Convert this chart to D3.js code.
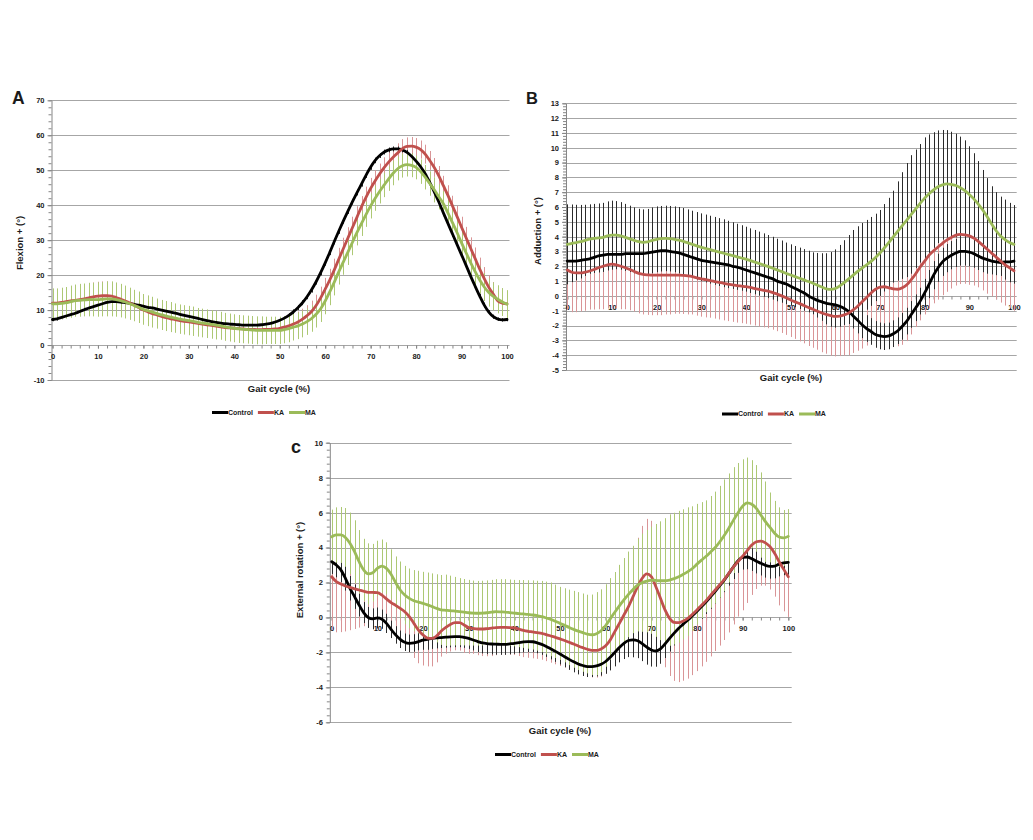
<!DOCTYPE html>
<html><head><meta charset="utf-8">
<script src="https://cdn.jsdelivr.net/npm/d3@7"></script>
<style>
body{margin:0;background:#fff}
svg{display:block}
text{font-family:"Liberation Sans",Arial,sans-serif;font-weight:bold;fill:#1a1a1a}
</style>
</head><body>
<svg id="chart" width="1033" height="840"></svg>
<script>
// ---------- DATA ----------
const gaitCycle = d3.range(0, 101, 1);            // % of gait cycle (x categories)
const xTickLabels = [0,10,20,30,40,50,60,70,80,90,100];
const seriesNames = ["Control", "KA", "MA"];

// Panel A : Flexion + (°)
const flexControl = [7.3,7.5,7.9,8.3,8.7,9.1,9.6,10.1,10.6,11.0,
 11.4,11.8,12.2,12.4,12.4,12.3,12.1,11.9,11.6,11.4,
 11.1,10.8,10.6,10.3,10.0,9.7,9.4,9.1,8.8,8.5,
 8.2,7.9,7.6,7.3,7.0,6.7,6.5,6.3,6.1,6.0,
 5.9,5.8,5.7,5.7,5.7,5.7,5.8,6.0,6.2,6.6,
 7.1,7.7,8.5,9.5,10.7,12.1,13.8,15.8,18.1,20.7,
 23.5,26.5,29.6,32.6,35.5,38.3,41.0,43.6,46.1,48.6,
 50.9,52.8,54.2,55.2,55.8,56.1,56.1,55.8,55.1,54.0,
 52.6,51.0,49.0,46.5,43.8,40.9,37.8,34.8,31.8,28.8,
 25.8,22.8,19.7,16.8,14.0,11.4,9.4,8.1,7.4,7.2,
 7.3];
const flexKA = [12.0,12.0,12.2,12.4,12.6,12.8,13.0,13.2,13.5,13.8,
 14.0,14.1,14.1,14.0,13.6,13.1,12.6,12.0,11.4,10.7,
 10.0,9.5,9.0,8.6,8.2,7.8,7.5,7.3,7.0,6.8,
 6.6,6.4,6.2,6.0,5.8,5.6,5.4,5.2,5.0,4.9,
 4.8,4.7,4.6,4.5,4.5,4.4,4.4,4.5,4.5,4.6,
 4.8,5.1,5.5,6.0,6.6,7.4,8.4,9.6,11.3,13.5,
 16.0,18.6,21.5,24.6,27.6,30.6,33.6,36.6,39.6,42.3,
 44.8,47.0,49.0,50.8,52.4,53.8,55.0,56.2,56.8,56.9,
 56.6,55.9,54.6,52.8,50.8,48.4,45.6,42.8,39.8,36.8,
 33.7,30.7,27.7,24.7,21.7,19.0,16.5,14.5,12.6,12.0,
 11.8];
const flexMA = [11.8,11.8,11.9,12.1,12.4,12.7,12.8,12.9,13.0,13.0,
 13.0,13.1,13.2,13.2,13.0,12.7,12.3,11.8,11.3,10.8,
 10.2,9.8,9.4,9.0,8.6,8.3,8.0,7.7,7.4,7.2,
 7.0,6.8,6.5,6.3,6.1,5.9,5.7,5.5,5.2,5.0,
 4.8,4.6,4.5,4.4,4.3,4.2,4.2,4.2,4.2,4.2,
 4.2,4.4,4.7,5.1,5.5,6.0,6.7,7.6,8.8,10.4,
 12.6,15.2,18.0,21.0,23.8,26.6,29.4,32.2,34.8,37.4,
 39.8,42.0,44.0,45.8,47.6,49.2,50.5,51.3,51.6,51.4,
 50.8,49.6,48.0,46.2,44.4,42.4,40.4,37.8,35.0,32.2,
 29.2,26.4,23.6,21.0,18.6,16.6,15.0,13.9,13.1,12.3,
 11.7];
const flexControlSD = [0.5,0.5,0.5,0.6,0.6,0.6,0.6,0.6,0.6,0.6,
 0.6,0.6,0.6,0.6,0.6,0.6,0.6,0.5,0.5,0.5,
 0.5,0.5,0.5,0.5,0.5,0.5,0.5,0.5,0.5,0.5,
 0.5,0.5,0.5,0.5,0.5,0.5,0.5,0.5,0.5,0.5,
 0.5,0.5,0.5,0.5,0.5,0.5,0.5,0.5,0.5,0.6,
 0.6,0.6,0.6,0.7,0.7,0.7,0.7,0.8,0.8,0.8,
 0.8,0.8,0.8,0.8,0.8,0.8,0.8,0.8,0.8,0.8,
 0.8,0.8,0.7,0.7,0.7,0.7,0.7,0.7,0.7,0.7,
 0.8,0.8,0.8,0.8,0.8,0.8,0.8,0.8,0.8,0.8,
 0.8,0.8,0.8,0.8,0.7,0.7,0.6,0.6,0.5,0.5,
 0.5];
const flexKASD = [3.8,3.8,3.8,3.9,3.9,3.9,4.0,4.0,4.0,4.1,
 4.1,4.1,4.1,4.0,4.0,3.9,3.9,3.8,3.7,3.7,
 3.6,3.5,3.5,3.4,3.3,3.3,3.2,3.1,3.1,3.0,
 3.0,3.0,3.0,2.9,2.9,2.9,2.9,2.9,2.8,2.8,
 2.8,2.8,2.8,2.8,2.8,2.8,2.8,2.8,2.8,2.8,
 2.8,2.8,2.9,2.9,3.0,3.0,3.0,3.1,3.1,3.2,
 3.2,3.2,3.2,3.2,3.1,3.1,3.1,3.1,3.0,3.0,
 3.0,3.0,2.9,2.9,2.8,2.8,2.7,2.7,2.6,2.6,
 2.6,2.6,2.7,2.7,2.7,2.8,2.8,2.9,2.9,3.0,
 3.0,3.1,3.1,3.2,3.3,3.3,3.4,3.5,3.5,3.6,
 3.6];
const flexMASD = [4.4,4.4,4.5,4.5,4.6,4.6,4.7,4.7,4.8,4.8,
 4.9,4.9,5.0,5.0,4.9,4.8,4.7,4.6,4.5,4.5,
 4.4,4.4,4.4,4.3,4.3,4.3,4.3,4.2,4.2,4.2,
 4.2,4.2,4.1,4.1,4.1,4.1,4.1,4.0,4.0,4.0,
 4.0,4.0,4.0,4.0,4.0,4.0,4.0,3.9,3.9,3.9,
 3.9,3.9,3.9,3.8,3.8,3.8,3.8,3.8,3.8,3.8,
 3.8,3.8,3.8,3.7,3.7,3.7,3.7,3.7,3.6,3.6,
 3.6,3.6,3.5,3.5,3.5,3.5,3.4,3.4,3.4,3.4,
 3.4,3.5,3.5,3.5,3.6,3.6,3.6,3.7,3.7,3.7,
 3.8,3.8,3.8,3.9,3.9,4.0,4.0,4.0,4.0,4.0,
 4.0];

// Panel B : Adduction + (°)
const addControl = [2.35,2.35,2.35,2.4,2.45,2.5,2.6,2.7,2.75,2.8,
 2.8,2.8,2.8,2.85,2.85,2.85,2.85,2.85,2.9,2.95,
 3.0,3.05,3.05,3.0,2.95,2.9,2.8,2.7,2.6,2.5,
 2.4,2.35,2.3,2.25,2.2,2.15,2.1,2.0,1.95,1.85,
 1.75,1.65,1.55,1.45,1.35,1.25,1.15,1.0,0.9,0.8,
 0.65,0.5,0.35,0.2,0.0,-0.15,-0.3,-0.4,-0.5,-0.55,
 -0.6,-0.7,-0.85,-1.05,-1.35,-1.65,-1.95,-2.2,-2.4,-2.6,
 -2.7,-2.75,-2.7,-2.55,-2.35,-2.05,-1.7,-1.25,-0.8,-0.35,
 0.2,0.8,1.4,1.9,2.3,2.55,2.75,2.9,3.0,3.0,
 2.95,2.85,2.7,2.55,2.45,2.35,2.3,2.25,2.3,2.3,
 2.35];
const addKA = [1.75,1.6,1.55,1.55,1.6,1.68,1.78,1.9,2.0,2.1,
 2.15,2.1,2.0,1.9,1.78,1.65,1.52,1.45,1.42,1.4,
 1.4,1.4,1.4,1.4,1.4,1.4,1.38,1.35,1.3,1.22,
 1.15,1.1,1.03,0.97,0.91,0.85,0.8,0.75,0.7,0.66,
 0.62,0.57,0.5,0.44,0.38,0.32,0.22,0.12,0.0,-0.13,
 -0.27,-0.4,-0.52,-0.65,-0.78,-0.9,-1.03,-1.15,-1.25,-1.33,
 -1.38,-1.36,-1.28,-1.15,-0.95,-0.7,-0.4,-0.1,0.2,0.45,
 0.6,0.62,0.55,0.48,0.45,0.55,0.75,1.1,1.5,1.95,
 2.35,2.75,3.05,3.3,3.55,3.78,3.95,4.1,4.15,4.12,
 4.05,3.9,3.68,3.42,3.15,2.88,2.62,2.35,2.1,1.9,
 1.7];
const addMA = [3.48,3.55,3.6,3.66,3.75,3.84,3.88,3.91,3.95,4.05,
 4.1,4.1,4.05,3.95,3.85,3.75,3.66,3.62,3.65,3.75,
 3.82,3.86,3.88,3.86,3.82,3.76,3.68,3.58,3.48,3.38,
 3.28,3.2,3.12,3.04,2.96,2.88,2.8,2.72,2.64,2.56,
 2.48,2.38,2.28,2.18,2.08,1.98,1.87,1.75,1.64,1.52,
 1.41,1.3,1.19,1.08,0.97,0.85,0.72,0.6,0.48,0.44,
 0.5,0.68,0.9,1.15,1.4,1.65,1.88,2.1,2.33,2.6,
 2.9,3.25,3.62,4.0,4.38,4.75,5.12,5.5,5.88,6.25,
 6.6,6.9,7.15,7.37,7.5,7.56,7.52,7.45,7.3,7.1,
 6.85,6.55,6.2,5.8,5.35,4.85,4.4,4.05,3.8,3.6,
 3.48];
const addControlSD = [0.9,0.9,0.9,0.9,0.9,0.9,0.9,0.9,0.9,0.9,
 0.9,0.9,0.9,0.9,0.9,0.9,0.9,0.9,0.9,0.9,
 0.9,0.9,0.9,0.9,0.9,0.9,0.9,0.9,0.9,0.9,
 0.85,0.85,0.85,0.85,0.85,0.85,0.85,0.85,0.85,0.85,
 0.85,0.85,0.85,0.85,0.85,0.85,0.85,0.85,0.85,0.85,
 0.85,0.85,0.85,0.85,0.85,0.85,0.85,0.85,0.85,0.85,
 0.85,0.85,0.85,0.85,0.85,0.88,0.9,0.9,0.9,0.9,
 0.9,0.9,0.9,0.9,0.9,0.9,0.9,0.9,0.9,0.9,
 0.95,0.95,0.95,0.95,0.95,0.95,0.95,0.95,0.95,0.95,
 0.95,0.95,0.95,0.95,0.95,0.9,0.9,0.9,0.9,0.9,
 0.9];
const addKASD = [2.7,2.7,2.65,2.6,2.6,2.6,2.7,2.8,2.9,2.95,
 3.0,2.95,2.9,2.8,2.75,2.7,2.7,2.7,2.7,2.7,
 2.7,2.7,2.65,2.65,2.6,2.6,2.6,2.6,2.55,2.55,
 2.55,2.55,2.5,2.5,2.5,2.5,2.5,2.5,2.5,2.5,
 2.5,2.5,2.5,2.5,2.5,2.5,2.5,2.5,2.5,2.5,
 2.5,2.5,2.55,2.55,2.6,2.6,2.6,2.65,2.65,2.7,
 2.7,2.7,2.75,2.85,2.9,3.0,3.15,3.25,3.4,3.55,
 3.7,3.75,3.8,3.8,3.85,3.85,3.8,3.7,3.6,3.6,
 3.6,3.6,3.55,3.55,3.5,3.5,3.45,3.4,3.35,3.3,
 3.3,3.2,3.1,3.05,3.0,2.9,2.85,2.8,2.75,2.7,
 2.7];
const addMASD = [2.7,2.62,2.55,2.48,2.4,2.34,2.33,2.33,2.33,2.33,
 2.33,2.3,2.28,2.26,2.24,2.22,2.22,2.22,2.22,2.22,
 2.22,2.21,2.21,2.21,2.22,2.24,2.25,2.26,2.27,2.28,
 2.29,2.29,2.29,2.29,2.29,2.29,2.27,2.25,2.23,2.21,
 2.19,2.18,2.17,2.16,2.14,2.13,2.12,2.11,2.1,2.08,
 2.07,2.07,2.07,2.08,2.08,2.09,2.18,2.28,2.4,2.52,
 2.64,2.76,2.86,2.96,3.05,3.05,3.04,3.03,3.0,2.95,
 2.9,2.95,3.0,3.1,3.35,3.6,3.85,4.0,4.0,4.0,
 4.1,4.0,3.9,3.8,3.7,3.63,3.56,3.5,3.45,3.4,
 3.25,3.08,2.9,2.7,2.6,2.55,2.6,2.65,2.7,2.68,
 2.65];

// Panel C : External rotation + (°)
const rotControl = [3.19,3.0,2.72,2.24,1.67,1.19,0.71,0.28,0.0,-0.08,
 -0.03,-0.1,-0.34,-0.68,-1.0,-1.25,-1.42,-1.48,-1.46,-1.38,
 -1.3,-1.25,-1.2,-1.17,-1.15,-1.13,-1.11,-1.1,-1.1,-1.14,
 -1.2,-1.29,-1.38,-1.46,-1.5,-1.52,-1.53,-1.54,-1.54,-1.51,
 -1.48,-1.44,-1.4,-1.38,-1.39,-1.45,-1.54,-1.66,-1.8,-1.94,
 -2.09,-2.25,-2.4,-2.54,-2.66,-2.75,-2.81,-2.81,-2.77,-2.68,
 -2.52,-2.28,-2.0,-1.72,-1.48,-1.32,-1.28,-1.33,-1.5,-1.7,
 -1.86,-1.92,-1.8,-1.52,-1.2,-0.9,-0.62,-0.38,-0.15,0.1,
 0.35,0.62,0.9,1.2,1.5,1.82,2.15,2.52,2.9,3.25,
 3.44,3.46,3.36,3.22,3.1,2.98,2.92,2.94,3.05,3.12,
 3.15];
const rotKA = [2.33,2.05,1.91,1.8,1.72,1.64,1.57,1.5,1.44,1.43,
 1.42,1.28,1.06,0.85,0.69,0.52,0.33,0.05,-0.34,-0.72,
 -1.0,-1.18,-1.2,-1.05,-0.78,-0.57,-0.4,-0.3,-0.3,-0.43,
 -0.58,-0.63,-0.66,-0.66,-0.64,-0.61,-0.58,-0.57,-0.57,-0.58,
 -0.6,-0.67,-0.74,-0.79,-0.83,-0.87,-0.91,-0.98,-1.06,-1.14,
 -1.23,-1.32,-1.42,-1.52,-1.63,-1.73,-1.82,-1.88,-1.88,-1.8,
 -1.62,-1.29,-0.81,-0.34,0.14,0.62,1.19,1.76,2.24,2.49,
 2.33,1.76,1.1,0.43,-0.05,-0.28,-0.3,-0.2,-0.05,0.18,
 0.43,0.7,0.96,1.27,1.57,1.87,2.18,2.54,2.9,3.2,
 3.51,3.83,4.14,4.33,4.37,4.27,4.05,3.67,3.19,2.75,
 2.33];
const rotMA = [4.62,4.72,4.72,4.58,4.24,3.76,3.19,2.72,2.49,2.56,
 2.81,2.94,2.81,2.47,1.99,1.57,1.28,1.09,0.96,0.88,
 0.81,0.72,0.62,0.52,0.43,0.41,0.39,0.36,0.33,0.3,
 0.27,0.25,0.24,0.25,0.27,0.3,0.33,0.32,0.31,0.28,
 0.25,0.22,0.2,0.17,0.14,0.1,0.05,-0.03,-0.11,-0.22,
 -0.34,-0.45,-0.57,-0.68,-0.78,-0.87,-0.95,-0.99,-0.93,-0.76,
 -0.46,-0.08,0.3,0.66,1.0,1.32,1.6,1.85,1.99,2.08,
 2.14,2.12,2.1,2.1,2.14,2.22,2.33,2.47,2.62,2.8,
 3.05,3.28,3.5,3.75,4.0,4.33,4.7,5.12,5.57,5.99,
 6.37,6.56,6.48,6.24,5.86,5.48,5.15,4.82,4.6,4.55,
 4.64];
const rotControlSD = [0.7,0.7,0.7,0.7,0.7,0.7,0.65,0.6,0.6,0.6,
 0.6,0.55,0.55,0.5,0.5,0.5,0.5,0.5,0.5,0.5,
 0.55,0.6,0.6,0.6,0.6,0.6,0.6,0.6,0.6,0.6,
 0.6,0.6,0.6,0.6,0.6,0.6,0.6,0.6,0.6,0.6,
 0.6,0.6,0.6,0.6,0.6,0.6,0.6,0.6,0.6,0.6,
 0.6,0.6,0.6,0.6,0.6,0.6,0.6,0.6,0.6,0.65,
 0.7,0.75,0.8,0.85,0.9,0.95,1.0,1.0,1.0,1.0,
 0.95,0.9,0.85,0.8,0.75,0.7,0.7,0.7,0.7,0.7,
 0.7,0.7,0.7,0.7,0.7,0.7,0.7,0.7,0.7,0.7,
 0.7,0.7,0.7,0.7,0.7,0.7,0.7,0.7,0.7,0.7,
 0.7];
const rotKASD = [3.05,2.9,2.75,2.6,2.45,2.3,2.15,2.0,1.9,1.8,
 1.78,1.77,1.76,1.76,1.85,2.0,2.1,2.05,1.98,1.9,
 1.75,1.62,1.6,1.52,1.46,1.5,1.55,1.58,1.6,1.6,
 1.5,1.45,1.5,1.55,1.58,1.6,1.58,1.56,1.55,1.55,
 1.55,1.54,1.53,1.52,1.51,1.5,1.51,1.52,1.53,1.54,
 1.55,1.55,1.55,1.55,1.55,1.55,1.55,1.55,1.56,1.58,
 1.6,1.7,1.8,2.0,2.2,2.4,2.6,2.8,3.0,3.15,
 3.2,3.22,3.25,3.28,3.3,3.35,3.4,3.42,3.45,3.48,
 3.5,3.5,3.5,3.5,3.49,3.48,3.47,3.4,3.3,3.15,
 3.1,3.0,2.85,2.7,2.55,2.45,2.45,2.48,2.5,2.4,
 2.3];
const rotMASD = [1.55,1.58,1.6,1.68,1.76,1.8,1.81,1.78,1.75,1.65,
 1.58,1.52,1.49,1.43,1.5,1.63,1.67,1.71,1.75,1.79,
 1.8,1.85,1.9,1.95,2.0,2.04,2.0,1.96,1.92,1.9,
 1.88,1.86,1.85,1.85,1.85,1.85,1.86,1.87,1.88,1.89,
 1.9,1.92,1.94,1.96,1.98,2.0,2.04,2.08,2.11,2.1,
 2.09,2.12,2.16,2.2,2.23,2.24,2.25,2.3,2.38,2.37,
 2.36,2.33,2.3,2.35,2.4,2.45,2.5,2.65,2.81,2.93,
 3.06,3.23,3.4,3.58,3.76,3.77,3.77,3.72,3.68,3.56,
 3.45,3.32,3.2,3.2,3.2,3.2,3.2,3.12,3.03,2.85,
 2.68,2.59,2.52,2.48,2.44,2.3,2.0,1.85,1.7,1.6,
 1.56];

// ---------- STYLE ----------
const lineColors = {Control:"#000000", KA:"#c0504d", MA:"#9bbb59"};
const GRID = "#a6a6a6", AXIS = "#868686";

const svg = d3.select("#chart");

function drawPanel(P) {
  const g = svg.append("g");
  const x = d3.scaleLinear().domain([0, 100]).range([P.x0, P.x100]);
  const y = d3.scaleLinear().domain([P.yMin, P.yMax]).range([P.yBot, P.yTop]);
  const majors = d3.range(P.yMin, P.yMax + P.step / 2, P.step);
  const minors = d3.range(0, Math.round((P.yMax - P.yMin) / P.minor) + 1).map(k => P.yMin + k * P.minor);

  // horizontal gridlines
  g.append("g").selectAll("line").data(majors).join("line")
    .attr("x1", P.axisX).attr("x2", P.gridRight)
    .attr("y1", d => Math.round(y(d)) + 0.5).attr("y2", d => Math.round(y(d)) + 0.5)
    .attr("stroke", GRID).attr("stroke-width", 1);

  // y axis (minor + major)
  const gyMin = g.append("g").attr("transform", `translate(${P.axisX + 0.5},0)`)
    .call(d3.axisLeft(y).tickValues(minors).tickSize(3).tickSizeOuter(0).tickFormat(""));
  gyMin.select(".domain").remove();
  gyMin.selectAll(".tick line").attr("stroke", AXIS);
  const gy = g.append("g").attr("transform", `translate(${P.axisX + 0.5},0)`)
    .call(d3.axisLeft(y).tickValues(majors).tickSize(4).tickSizeOuter(0).tickPadding(3).tickFormat(d => String(d)));
  gy.select(".domain").attr("stroke", AXIS);
  gy.selectAll(".tick line").attr("stroke", AXIS);
  gy.selectAll("text").attr("font-size", 7.5).attr("font-family", null);

  // x axis at y = 0
  const y0 = Math.round(y(0)) + 0.5;
  const gxMin = g.append("g").attr("transform", `translate(0,${y0})`)
    .call(d3.axisBottom(x).tickValues(d3.range(0, 101, 2)).tickSize(3).tickSizeOuter(0).tickFormat(""));
  gxMin.select(".domain").remove();
  gxMin.selectAll(".tick line").attr("stroke", AXIS);
  const gx = g.append("g").attr("transform", `translate(0,${y0})`)
    .call(d3.axisBottom(x).tickValues(xTickLabels).tickSize(3).tickSizeOuter(0).tickPadding(5));
  gx.select(".domain").remove();
  gx.selectAll(".tick line").attr("stroke", AXIS);
  gx.selectAll("text").attr("font-size", 7.5).attr("font-family", null);

  // error bars
  P.barOrder.forEach(name => {
    const s = P.series.find(d => d.name === name);
    g.append("g").selectAll("line").data(s.mean).join("line")
      .attr("x1", (d, i) => Math.round(x(gaitCycle[i])) + 0.5)
      .attr("x2", (d, i) => Math.round(x(gaitCycle[i])) + 0.5)
      .attr("y1", (d, i) => y(d - s.sd[i]))
      .attr("y2", (d, i) => y(d + s.sd[i]))
      .attr("stroke", s.barColor).attr("stroke-width", 1);
  });

  // mean lines
  const line = d3.line().x((d, i) => x(gaitCycle[i])).y(d => y(d)).curve(d3.curveMonotoneX);
  P.series.forEach(s => {
    g.append("path").datum(s.mean).attr("d", line)
      .attr("fill", "none").attr("stroke", lineColors[s.name])
      .attr("stroke-width", 2.8).attr("stroke-linejoin", "round").attr("stroke-linecap", "round");
  });

  // titles
  g.append("text").attr("x", P.letterX).attr("y", P.letterY)
    .attr("font-size", P.letterSize).attr("fill", "#000").text(P.letter);
  g.append("text").attr("x", P.xTitleX).attr("y", P.xTitleY)
    .attr("text-anchor", "middle").attr("font-size", 9.5).text("Gait cycle (%)");
  g.append("text").attr("transform", `translate(${P.yTitleX},${P.yTitleY}) rotate(-90)`)
    .attr("text-anchor", "middle").attr("dy", "0.35em").attr("font-size", 9.5).text(P.yTitle);

  // legend
  let cx = P.legendX;
  seriesNames.forEach(n => {
    g.append("line").attr("x1", cx).attr("x2", cx + 16)
      .attr("y1", P.legendY).attr("y2", P.legendY)
      .attr("stroke", lineColors[n]).attr("stroke-width", 3);
    cx += 16;
    const t = g.append("text").attr("x", cx).attr("y", P.legendY).attr("dy", "0.35em")
      .attr("font-size", 7).text(n);
    cx += t.node().getComputedTextLength() + 5;
  });
}

const GREENBAR = "#adc874", PINKBAR = "#d99597", DARKBAR = "#2b2b2b";

drawPanel({
  letter: "A", letterX: 12, letterY: 104, letterSize: 17.5,
  axisX: 51, gridRight: 509.5, x0: 52.5, x100: 507,
  yTop: 100.3, yBot: 380, yMin: -10, yMax: 70, step: 10, minor: 2,
  yTitle: "Flexion + (°)", yTitleX: 19.5, yTitleY: 243,
  xTitleX: 279, xTitleY: 392, legendX: 212, legendY: 412.5,
  barOrder: ["KA", "Control", "MA"],
  series: [
    {name: "Control", mean: flexControl, sd: flexControlSD, barColor: DARKBAR},
    {name: "KA", mean: flexKA, sd: flexKASD, barColor: PINKBAR},
    {name: "MA", mean: flexMA, sd: flexMASD, barColor: GREENBAR}
  ]
});

drawPanel({
  letter: "B", letterX: 526, letterY: 103.5, letterSize: 16.5,
  axisX: 565.5, gridRight: 1016.7, x0: 567.3, x100: 1014,
  yTop: 103.3, yBot: 370, yMin: -5, yMax: 13, step: 1, minor: 0.2,
  yTitle: "Adduction + (°)", yTitleX: 538, yTitleY: 231,
  xTitleX: 791, xTitleY: 381, legendX: 722, legendY: 414,
  barOrder: ["KA", "Control", "MA"],
  series: [
    {name: "Control", mean: addControl, sd: addControlSD, barColor: DARKBAR},
    {name: "KA", mean: addKA, sd: addKASD, barColor: PINKBAR},
    {name: "MA", mean: addMA, sd: addMASD, barColor: DARKBAR}
  ]
});

drawPanel({
  letter: "c", letterX: 291, letterY: 452.5, letterSize: 18,
  axisX: 329.3, gridRight: 791.7, x0: 331.7, x100: 788.3,
  yTop: 442.7, yBot: 722.3, yMin: -6, yMax: 10, step: 2, minor: 0.4,
  yTitle: "External rotation + (°)", yTitleX: 300, yTitleY: 570,
  xTitleX: 560, xTitleY: 733.5, legendX: 495, legendY: 754.5,
  barOrder: ["KA", "Control", "MA"],
  series: [
    {name: "Control", mean: rotControl, sd: rotControlSD, barColor: DARKBAR},
    {name: "KA", mean: rotKA, sd: rotKASD, barColor: PINKBAR},
    {name: "MA", mean: rotMA, sd: rotMASD, barColor: GREENBAR}
  ]
});
</script>
</body></html>
